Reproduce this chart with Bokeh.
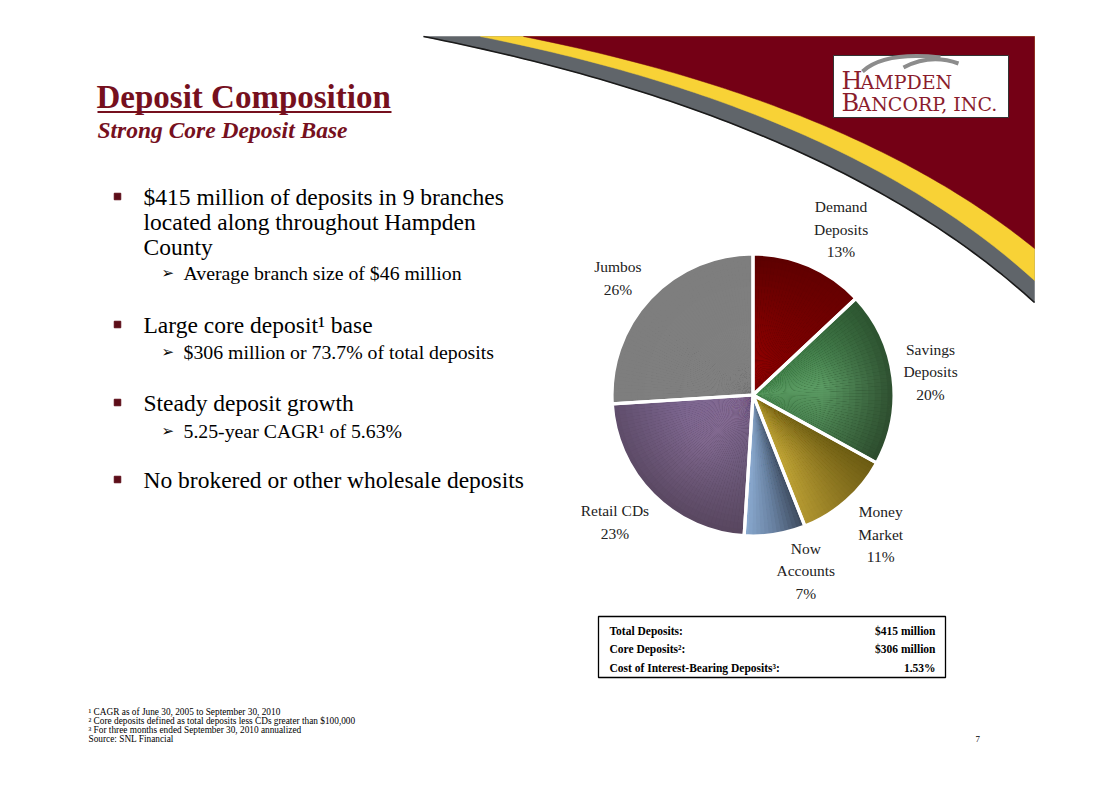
import numpy as np
from bokeh.plotting import figure
from bokeh.models import Range1d, ColumnDataSource
from bokeh.core.properties import value
from bokeh.embed import file_html
from bokeh.resources import INLINE

# ---------------- data ----------------
slice_names = ["Demand\nDeposits", "Savings\nDeposits", "Money\nMarket", "Now\nAccounts", "Retail CDs", "Jumbos"]
slice_shares = [13, 20, 11, 7, 23, 26]

title_text = "Deposit Composition"
subtitle_text = "Strong Core Deposit Base"

bullet_lines = [
    ["$415 million of deposits in 9 branches", "located along throughout Hampden", "County"],
    ["Large core deposit\u00b9 base"],
    ["Steady deposit growth"],
    ["No brokered or other wholesale deposits"],
]
sub_bullets = [
    "Average branch size of $46 million",
    "$306 million or 73.7% of total deposits",
    "5.25-year CAGR\u00b9 of 5.63%",
    None,
]

table_labels = ["Total Deposits:", "Core Deposits\u00b2:", "Cost of Interest-Bearing Deposits\u00b3:"]
table_values = ["$415 million", "$306 million", "1.53%"]

footnotes = [
    "\u00b9 CAGR as of June 30, 2005 to September 30, 2010",
    "\u00b2 Core deposits defined as total deposits less CDs greater than $100,000",
    "\u00b3 For three months ended September 30, 2010 annualized",
    "Source: SNL Financial",
]
page_number = "7"

# ---------------- style / layout ----------------
W, H = 1111, 785
MAROON = "#76101e"
SERIF = value("Liberation Serif")


def sy(v):
    return H - v


# colour grids per slice: rows = radius (inner, mid, outer), cols = angle (start, mid, end)
slice_grids = [
    [["#a00000", "#9a0000", "#900000"], ["#800000", "#7a0000", "#780000"], ["#5a0000", "#600000", "#680000"]],
    [["#4a8a52", "#58985f", "#4a8a52"], ["#3f7a47", "#5c9c64", "#4a8050"], ["#2c5530", "#2e4f30", "#2c4a2c"]],
    [["#7a6a1a", "#907a22", "#a89030"], ["#6e5e14", "#9c8428", "#c4a838"], ["#6a5a12", "#8a7420", "#b09530"]],
    [["#4a5a70", "#6a82a0", "#8aa8cc"], ["#3e4c60", "#6a84a4", "#90b0d6"], ["#3c485a", "#6880a0", "#8aaad0"]],
    [["#7e6690", "#8a7098", "#8a7098"], ["#6a5878", "#80688e", "#7c6690"], ["#58465e", "#5a4862", "#604e6c"]],
    [["#838383", "#818181", "#828282"], ["#808080", "#808080", "#808080"], ["#7e7e7e", "#7e7e7e", "#7e7e7e"]],
]
label_nudges = [(15, 3), (-5, 0), (6, 1), (24, -6), (-8, -3), (-1, 9)]

PIE_CX, PIE_CY, PIE_R, LABEL_R = 752.5, 394.5, 141, 184

p = figure(width=W, height=H, x_range=Range1d(0, W), y_range=Range1d(0, H),
           output_backend="svg", toolbar_location=None, min_border=0,
           x_axis_type=None, y_axis_type=None)
p.grid.visible = False
p.outline_line_color = None
p.background_fill_color = "white"
p.border_fill_color = "white"

# ---------------- decorative swoosh ----------------
def qbez(p0, p1, p2, n=80):
    t = np.linspace(0, 1, n)[:, None]
    pts = (1 - t) ** 2 * np.array(p0) + 2 * (1 - t) * t * np.array(p1) + t ** 2 * np.array(p2)
    return pts[:, 0], pts[:, 1]

RIGHT = 1034
bands = [
    ((423, 36), (831, 117), (RIGHT, 302), "#60656a"),
    ((480, 36), (846, 109), (RIGHT, 280), "#f8d236"),
    ((523, 36), (854, 102), (RIGHT, 248), "#740015"),
]
for p0, p1, p2, col in bands:
    bx, by = qbez(p0, p1, p2)
    xs = [p0[0], RIGHT] + list(bx[::-1])
    ys = [36, 36] + list(by[::-1])
    p.patch(xs, [sy(v) for v in ys], fill_color=col, line_color=col, line_width=0.5)
gx, gy = qbez(*[b[:3] for b in bands][0])
p.line(list(gx), [sy(v) for v in gy], line_color="#1a1a1a", line_width=1.6)

# ---------------- logo ----------------
p.quad(left=[833], right=[1008], top=[sy(55)], bottom=[sy(117)], fill_color="white",
       line_color="#333333", line_width=1)
p.quadratic(x0=[862, 903], y0=[sy(71), sy(67)], x1=[940, 958], y1=[sy(57), sy(63)],
            cx=[884, 930], cy=[sy(51), sy(53)], line_color="#8c8c8c", line_width=4)
LOGO_RED = "#8a1c2c"
LOGO_FONT = value("DejaVu Serif")
p.text(x=[841, 841], y=[sy(80), sy(102)], text=["H", "B"], text_font=LOGO_FONT,
       text_font_size="24px", text_color=LOGO_RED, text_baseline="middle")
p.text(x=[860, 857], y=[sy(81.5), sy(103.5)], text=["AMPDEN", "ANCORP, INC."], text_font=LOGO_FONT,
       text_font_size="19px", text_color=LOGO_RED, text_baseline="middle")

# ---------------- title ----------------
p.text(x=[96], y=[sy(96)], text=[title_text], text_font=SERIF, text_font_size="33px",
       text_font_style="bold", text_color=MAROON, text_baseline="middle")
p.line([97, 391], [sy(111.5), sy(111.5)], line_color=MAROON, line_width=2.2)
p.text(x=[97], y=[sy(129)], text=[subtitle_text], text_font=SERIF, text_font_size="23.5px",
       text_font_style="bold italic", text_color=MAROON, text_baseline="middle")

# ---------------- bullets ----------------
main_y = [196, 324, 402, 479]
line_gap = 25
sub_gap = [76, 27, 28, 0]
for i, lines in enumerate(bullet_lines):
    y0 = main_y[i]
    p.scatter(x=[117], y=[sy(y0)], marker="square", size=6.5, fill_color="#5c0d18",
              line_color="#5c0d18")
    p.text(x=[143] * len(lines), y=[sy(y0 + k * line_gap) for k in range(len(lines))], text=lines,
           text_font=SERIF, text_font_size="23.5px", text_color="black", text_baseline="middle")
    if sub_bullets[i]:
        ys = y0 + sub_gap[i]
        p.text(x=[161], y=[sy(ys)], text=["\u27a2"], text_font=value("DejaVu Sans"),
               text_font_size="15px", text_color="black", text_baseline="middle")
        p.text(x=[183], y=[sy(ys)], text=[sub_bullets[i]], text_font=SERIF,
               text_font_size="19.8px", text_color="black", text_baseline="middle")

# ---------------- pie ----------------
def hex2rgb(h):
    return np.array([int(h[k:k + 2], 16) for k in (1, 3, 5)], float)


def grid_color(grid, u, r):
    G = [[hex2rgb(c) for c in row] for row in grid]
    gu, gr = u * 2, r * 2
    i, j = min(int(gu), 1), min(int(gr), 1)
    fu, fr = gu - i, gr - j
    c = (1 - fr) * ((1 - fu) * G[j][i] + fu * G[j][i + 1]) + fr * ((1 - fu) * G[j + 1][i] + fu * G[j + 1][i + 1])
    c = np.clip(c, 0, 255).astype(int)
    return "#%02x%02x%02x" % tuple(c)


total = float(sum(slice_shares))
cum = np.concatenate([[0], np.cumsum(slice_shares)]) / total * 2 * np.pi
cy_data = sy(PIE_CY)

# shaded fill: nested wedges drawn outermost first, so inner ones cover without seams
src = dict(x=[], y=[], r=[], sa=[], ea=[], c=[])
n_r = 22
for s in range(len(slice_shares)):
    a0, a1 = cum[s], cum[s + 1]
    n_u = max(10, int(round(slice_shares[s] * 2.2)))
    for k in range(n_u):
        ua0 = a0 + (a1 - a0) * k / n_u
        ua1 = a0 + (a1 - a0) * (k + 1) / n_u
        for m in range(n_r - 1, -1, -1):
            src["x"].append(PIE_CX)
            src["y"].append(cy_data)
            src["r"].append(PIE_R * (m + 1) / n_r)
            src["sa"].append(np.pi / 2 - ua1 - (0.006 if k < n_u - 1 else 0))
            src["ea"].append(np.pi / 2 - ua0)
            src["c"].append(grid_color(slice_grids[s], (k + 0.5) / n_u, (m + 0.5) / n_r))
p.wedge(x="x", y="y", radius="r", start_angle="sa", end_angle="ea", fill_color="c",
        line_color=None, source=ColumnDataSource(src))

p.wedge(x=[PIE_CX] * len(slice_shares), y=[cy_data] * len(slice_shares), radius=PIE_R,
        start_angle=[np.pi / 2 - cum[s + 1] for s in range(len(slice_shares))],
        end_angle=[np.pi / 2 - cum[s] for s in range(len(slice_shares))],
        fill_color=None, line_color="white", line_width=3.2)

lx, ly, lt = [], [], []
for s in range(len(slice_shares)):
    mid = (cum[s] + cum[s + 1]) / 2
    dx, dy = label_nudges[s]
    lx.append(PIE_CX + LABEL_R * np.sin(mid) + dx)
    ly.append(sy(PIE_CY - LABEL_R * np.cos(mid) + dy))
    lt.append("%s\n%d%%" % (slice_names[s], slice_shares[s]))
p.text(x=lx, y=ly, text=lt, text_font=SERIF, text_font_size="15.5px", text_color="#222222",
       text_align="center", text_baseline="middle", text_line_height=1.32)

# ---------------- table ----------------
p.quad(left=[598], right=[945], top=[sy(616)], bottom=[sy(677)], fill_color="white",
       line_color="black", line_width=1.3)
row_y = [630, 648.5, 667]
p.text(x=[609] * 3, y=[sy(v) for v in row_y], text=table_labels, text_font=SERIF,
       text_font_size="11.5px", text_font_style="bold", text_color="black", text_baseline="middle")
p.text(x=[935] * 3, y=[sy(v) for v in row_y], text=table_values, text_font=SERIF,
       text_font_size="11.5px", text_font_style="bold", text_color="black", text_baseline="middle",
       text_align="right")

# ---------------- footnotes ----------------
p.text(x=[88] * 4, y=[sy(711 + 9 * k) for k in range(4)], text=footnotes, text_font=SERIF,
       text_font_size="9.3px", text_color="black", text_baseline="middle")
p.text(x=[975], y=[sy(738)], text=[page_number], text_font=SERIF, text_font_size="9px",
       text_color="black", text_baseline="middle")

open("out.html", "w").write(file_html(p, INLINE))
